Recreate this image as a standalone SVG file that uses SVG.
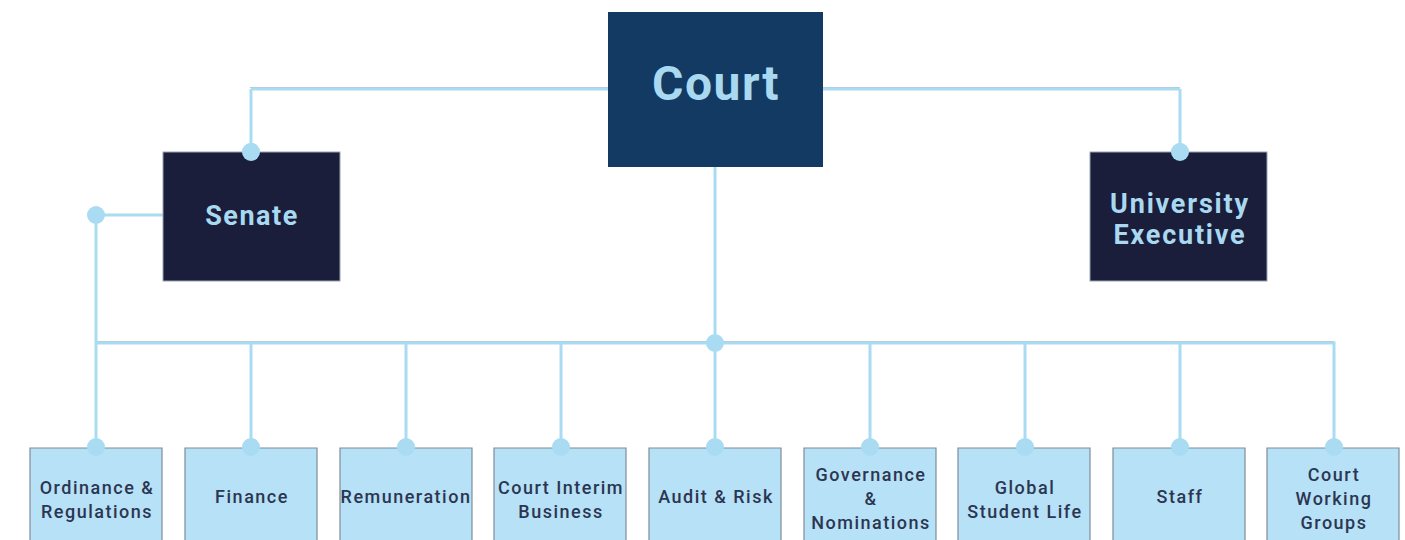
<svg xmlns="http://www.w3.org/2000/svg" width="1405" height="540" viewBox="0 0 1405 540">
<style>
.ln{fill:none;stroke:#a9dcf3;stroke-width:3}
.sh{fill:none;stroke:#b9c3cb;stroke-width:1.2}
.dot{fill:#a9dcf3}
.top{fill:#133a62}
.mid{fill:#1b1e3a;stroke:#9aa3b0;stroke-width:1}
.box{fill:#b7e1f6}
.edge{fill:none;stroke:#7f8d9a;stroke-width:1.2}
.t1{font-family:Roboto,"Liberation Sans",sans-serif;font-weight:700;fill:#a9d9f1;text-anchor:middle}
.t2{font-family:Roboto,"Liberation Sans",sans-serif;font-weight:500;font-size:18px;letter-spacing:1.5px;fill:#2b3652;text-anchor:middle}
</style>
<rect width="1405" height="540" fill="#ffffff"/>
<g id="connectors">
  <path class="sh" d="M250 87.5 H1180 M95 341.5 H1334"/>
  <path class="ln" d="M251 89 H608 M823 89 H1180 M251 89 V152 M1180 89 V152"/>
  <path class="ln" d="M96 215 H163 M96 215 V447"/>
  <path class="ln" d="M715 167 V343"/>
  <path class="ln" d="M96 343 H1334 V447"/>
  <path class="ln" d="M251 343 V447 M406 343 V447 M561 343 V447 M715 343 V447 M870 343 V447 M1025 343 V447 M1180 343 V447"/>
  <circle class="dot" cx="251" cy="152" r="9"/>
  <circle class="dot" cx="1180" cy="152" r="9"/>
  <circle class="dot" cx="96" cy="215" r="9"/>
  <circle class="dot" cx="715" cy="343" r="9"/>
</g>
<g id="court">
  <rect class="top" x="608" y="12" width="215" height="155"/>
  <text class="t1" x="716" y="100" font-size="48" letter-spacing="1.5">Court</text>
</g>
<g id="senate">
  <rect class="mid" x="163" y="152" width="177" height="129"/>
  <circle class="dot" cx="251" cy="152" r="9"/>
  <text class="t1" x="252" y="225" font-size="27" letter-spacing="1.5">Senate</text>
</g>
<g id="university-executive">
  <rect class="mid" x="1090" y="152" width="177" height="129"/>
  <circle class="dot" cx="1180" cy="152" r="9"/>
  <text class="t1" x="1180" y="213" font-size="27" letter-spacing="1.8">University</text>
  <text class="t1" x="1180" y="244" font-size="27" letter-spacing="1.8">Executive</text>
</g>
<g id="ordinance-regulations">
  <rect class="box" x="30" y="448" width="132" height="92"/>
  <path class="edge" d="M30 540 V448 H162 V540"/>
  <circle class="dot" cx="96" cy="447" r="9"/>
  <text class="t2" x="97" y="494">Ordinance &amp;</text>
  <text class="t2" x="97" y="518">Regulations</text>
</g>
<g id="finance">
  <rect class="box" x="185" y="448" width="132" height="92"/>
  <path class="edge" d="M185 540 V448 H317 V540"/>
  <circle class="dot" cx="251" cy="447" r="9"/>
  <text class="t2" x="252" y="503">Finance</text>
</g>
<g id="remuneration">
  <rect class="box" x="340" y="448" width="132" height="92"/>
  <path class="edge" d="M340 540 V448 H472 V540"/>
  <circle class="dot" cx="406" cy="447" r="9"/>
  <text class="t2" x="406" y="503" letter-spacing="0.6">Remuneration</text>
</g>
<g id="court-interim-business">
  <rect class="box" x="494" y="448" width="132" height="92"/>
  <path class="edge" d="M494 540 V448 H626 V540"/>
  <circle class="dot" cx="561" cy="447" r="9"/>
  <text class="t2" x="561" y="494" letter-spacing="0.8">Court Interim</text>
  <text class="t2" x="561" y="518">Business</text>
</g>
<g id="audit-risk">
  <rect class="box" x="649" y="448" width="132" height="92"/>
  <path class="edge" d="M649 540 V448 H781 V540"/>
  <circle class="dot" cx="715" cy="447" r="9"/>
  <text class="t2" x="716" y="503">Audit &amp; Risk</text>
</g>
<g id="governance-nominations">
  <rect class="box" x="804" y="448" width="132" height="92"/>
  <path class="edge" d="M804 540 V448 H936 V540"/>
  <circle class="dot" cx="870" cy="447" r="9"/>
  <text class="t2" x="871" y="481">Governance</text>
  <text class="t2" x="871" y="505">&amp;</text>
  <text class="t2" x="871" y="529" letter-spacing="0.9">Nominations</text>
</g>
<g id="global-student-life">
  <rect class="box" x="958" y="448" width="132" height="92"/>
  <path class="edge" d="M958 540 V448 H1090 V540"/>
  <circle class="dot" cx="1025" cy="447" r="9"/>
  <text class="t2" x="1025" y="494">Global</text>
  <text class="t2" x="1025" y="518" letter-spacing="0.9">Student Life</text>
</g>
<g id="staff">
  <rect class="box" x="1113" y="448" width="132" height="92"/>
  <path class="edge" d="M1113 540 V448 H1245 V540"/>
  <circle class="dot" cx="1180" cy="447" r="9"/>
  <text class="t2" x="1180" y="503">Staff</text>
</g>
<g id="court-working-groups">
  <rect class="box" x="1267" y="448" width="132" height="92"/>
  <path class="edge" d="M1267 540 V448 H1399 V540"/>
  <circle class="dot" cx="1334" cy="447" r="9"/>
  <text class="t2" x="1334" y="481">Court</text>
  <text class="t2" x="1334" y="505">Working</text>
  <text class="t2" x="1334" y="529">Groups</text>
</g>
</svg>
